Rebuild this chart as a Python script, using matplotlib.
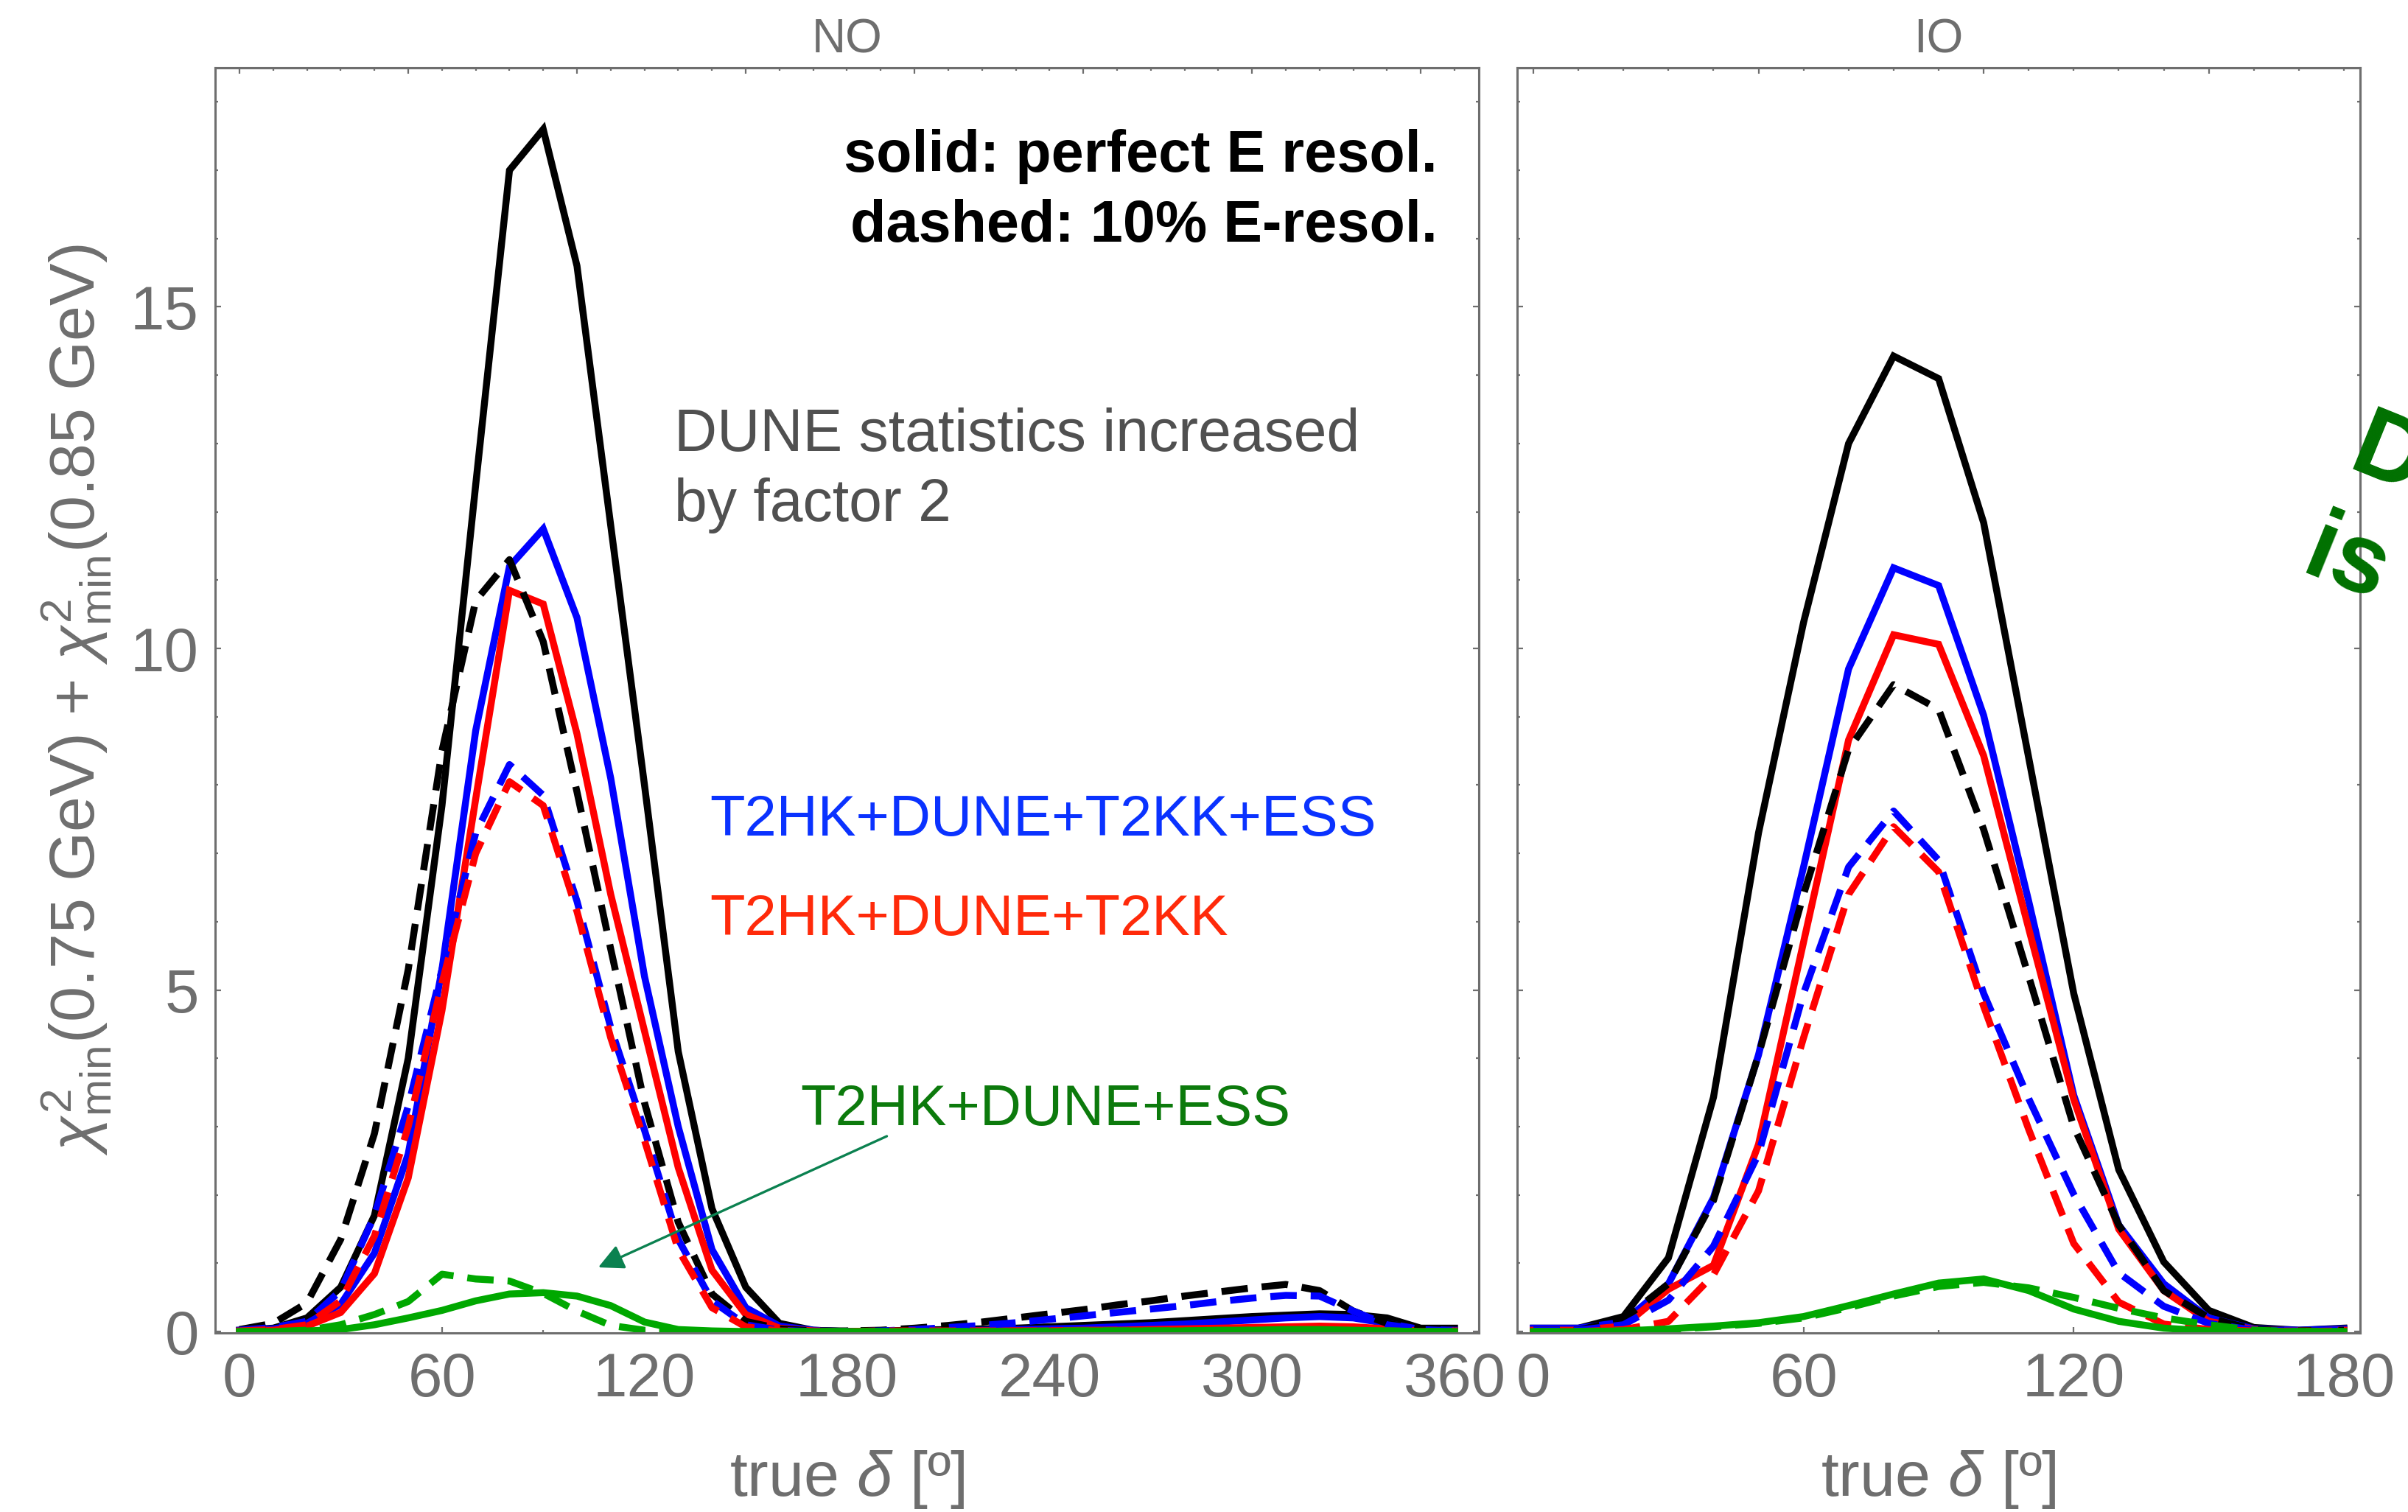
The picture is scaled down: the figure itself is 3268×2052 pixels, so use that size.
""" Chi^2 sensitivity vs true delta for NO and IO, solid = perfect E resolution, dashed = 10% E-resolution. """

import matplotlib
matplotlib.use('Agg')
import matplotlib.pyplot as plt
from matplotlib.ticker import MultipleLocator, FixedLocator

plt.rcParams['font.family'] = ['Liberation Sans', 'DejaVu Sans']
plt.rcParams['mathtext.fontset'] = 'custom'
plt.rcParams['mathtext.rm'] = 'Liberation Sans'
plt.rcParams['mathtext.it'] = 'Liberation Sans:italic'
plt.rcParams['mathtext.bf'] = 'Liberation Sans:bold'

# ---- data: NO (true delta 0..360 in steps of 10) ----
delta_no = list(range(0, 361, 10))

no_black_solid = [0.02, 0.05, 0.2, 0.65, 1.7, 4.0, 7.7, 12.4, 17.0, 17.6, 15.6, 11.8, 8.0, 4.1, 1.8,
                  0.65, 0.12, 0.02, 0.0, 0.01, 0.02, 0.03, 0.04, 0.05, 0.07, 0.09, 0.11, 0.13, 0.16,
                  0.19, 0.22, 0.24, 0.26, 0.25, 0.2, 0.05, 0.05]
no_blue_solid = [0.02, 0.04, 0.12, 0.4, 1.15, 2.6, 5.3, 8.8, 11.2, 11.75, 10.45, 8.1, 5.2, 3.0, 1.2,
                 0.35, 0.08, 0.02, 0.0, 0.0, 0.01, 0.01, 0.02, 0.03, 0.04, 0.05, 0.07, 0.09, 0.11,
                 0.14, 0.17, 0.2, 0.22, 0.2, 0.12, 0.03, 0.02]
no_red_solid = [0.01, 0.02, 0.08, 0.28, 0.85, 2.25, 4.7, 7.8, 10.85, 10.65, 8.75, 6.4, 4.4, 2.4, 0.9,
                0.25, 0.05, 0.01, 0.0, 0.0, 0.0, 0.01, 0.01, 0.01, 0.01, 0.02, 0.02, 0.03, 0.04,
                0.05, 0.06, 0.07, 0.08, 0.07, 0.04, 0.01, 0.01]
no_green_solid = [0.0, 0.0, 0.01, 0.03, 0.1, 0.2, 0.31, 0.45, 0.55, 0.57, 0.52, 0.38, 0.14, 0.03, 0.01,
                  0.0, 0.0, 0.0, 0.0, 0.0, 0.0, 0.0, 0.0, 0.0, 0.0, 0.01, 0.01, 0.01, 0.01,
                  0.02, 0.02, 0.03, 0.03, 0.02, 0.01, 0.0, 0.0]

no_black_dashed = [0.03, 0.12, 0.42, 1.35, 2.9, 5.3, 8.5, 10.7, 11.3, 10.1, 7.9, 5.6, 3.35, 1.6, 0.55,
                   0.15, 0.04, 0.01, 0.01, 0.02, 0.05, 0.09, 0.14, 0.2, 0.26, 0.32, 0.39, 0.45, 0.52,
                   0.58, 0.64, 0.69, 0.6, 0.3, 0.12, 0.04, 0.02]
no_blue_dashed = [0.02, 0.06, 0.15, 0.6, 1.7, 3.3, 5.3, 7.3, 8.3, 7.85, 6.3, 4.45, 2.95, 1.35, 0.45,
                  0.1, 0.02, 0.0, 0.0, 0.01, 0.03, 0.06, 0.09, 0.13, 0.18, 0.23, 0.28, 0.33, 0.38,
                  0.44, 0.49, 0.53, 0.52, 0.3, 0.1, 0.03, 0.01]
no_red_dashed = [0.01, 0.03, 0.1, 0.45, 1.4, 3.0, 5.1, 7.0, 8.05, 7.7, 6.15, 4.3, 2.8, 1.2, 0.35,
                 0.07, 0.01, 0.0, 0.0, 0.01, 0.01, 0.01, 0.01, 0.01, 0.01, 0.01, 0.02, 0.02, 0.02,
                 0.02, 0.02, 0.03, 0.03, 0.02, 0.01, 0.0, 0.0]
no_green_dashed = [0.0, 0.0, 0.02, 0.1, 0.25, 0.44, 0.84, 0.77, 0.74, 0.56, 0.3, 0.09, 0.02, 0.01, 0.0,
                   0.0, 0.0, 0.0, 0.0, 0.0, 0.0, 0.0, 0.0, 0.0, 0.01, 0.01, 0.01, 0.01, 0.01,
                   0.01, 0.02, 0.02, 0.02, 0.01, 0.01, 0.0, 0.0]

# ---- data: IO (true delta 0..180 in steps of 10) ----
delta_io = list(range(0, 181, 10))

io_black_solid = [0.05, 0.05, 0.22, 1.08, 3.43, 7.3, 10.38, 13.0, 14.28, 13.95, 11.84, 8.4, 4.95, 2.37,
                  1.02, 0.31, 0.06, 0.02, 0.05]
io_blue_solid = [0.05, 0.05, 0.14, 0.7, 1.96, 4.05, 6.8, 9.7, 11.18, 10.92, 9.02, 6.3, 3.46, 1.56,
                 0.7, 0.2, 0.04, 0.02, 0.04]
io_red_solid = [0.02, 0.02, 0.08, 0.62, 0.97, 2.74, 5.7, 8.66, 10.2, 10.06, 8.43, 5.9, 3.4, 1.5,
                0.6, 0.15, 0.03, 0.01, 0.02]
io_green_solid = [0.0, 0.0, 0.01, 0.04, 0.08, 0.13, 0.22, 0.38, 0.55, 0.71, 0.77, 0.6, 0.33, 0.15,
                  0.05, 0.01, 0.0, 0.0, 0.0]

io_black_dashed = [0.02, 0.02, 0.18, 0.7, 1.92, 4.05, 6.4, 8.52, 9.47, 9.11, 7.35, 5.2, 3.0, 1.56,
                   0.6, 0.2, 0.03, 0.01, 0.02]
io_blue_dashed = [0.02, 0.02, 0.1, 0.46, 1.25, 2.6, 4.95, 6.8, 7.62, 6.9, 4.95, 3.41, 2.01, 0.86,
                  0.37, 0.12, 0.02, 0.01, 0.02]
io_red_dashed = [0.0, 0.0, 0.03, 0.15, 0.83, 2.06, 4.3, 6.4, 7.39, 6.73, 4.76, 2.96, 1.29, 0.43,
                 0.11, 0.03, 0.01, 0.0, 0.01]
io_green_dashed = [0.0, 0.0, 0.01, 0.03, 0.07, 0.12, 0.2, 0.35, 0.52, 0.66, 0.72, 0.64, 0.5, 0.34,
                   0.2, 0.1, 0.02, 0.0, 0.0]

no_xticks = [0, 60, 120, 180, 240, 300, 360]
io_xticks = [0, 60, 120, 180]
yticks = [0, 5, 10, 15]

GRAY = '#6e6e6e'
W, H = 3268, 2052

fig = plt.figure(figsize=(W / 200, H / 200), dpi=200)
bottom = 1 - 1809 / H
height = (1809 - 92) / H
ax_no = fig.add_axes([292 / W, bottom, (2007 - 292) / W, height])
ax_io = fig.add_axes([2059 / W, bottom, (3203 - 2059) / W, height])


def draw(ax, x, solids, dashes):
    lw = 3.4
    for y, c in solids:
        ax.plot(x, y, color=c, lw=lw, solid_joinstyle='miter')
    for y, c in dashes:
        ax.plot(x, y, color=c, lw=lw, dashes=(3.8, 2.0))


draw(ax_no, delta_no,
     [(no_black_solid, 'black'), (no_blue_solid, '#0000ff'), (no_red_solid, '#ff0000')],
     [(no_black_dashed, 'black'), (no_blue_dashed, '#0000ff'), (no_red_dashed, '#ff0000')])
draw(ax_no, delta_no, [(no_green_solid, '#00a800')], [(no_green_dashed, '#00a800')])

draw(ax_io, delta_io,
     [(io_black_solid, 'black'), (io_blue_solid, '#0000ff'), (io_red_solid, '#ff0000')],
     [(io_black_dashed, 'black'), (io_blue_dashed, '#0000ff'), (io_red_dashed, '#ff0000')])
draw(ax_io, delta_io, [(io_green_solid, '#00a800')], [(io_green_dashed, '#00a800')])


def style(ax, xmax, xticks, ylabels):
    pad = 0.02 * xmax
    ax.set_xlim(-pad, xmax + pad)
    ax.set_ylim(-0.02, 18.5)
    for s in ax.spines.values():
        s.set_color(GRAY)
        s.set_linewidth(1.1)
    ax.set_xticks(xticks)
    ax.xaxis.set_minor_locator(MultipleLocator(30))
    ax.set_yticks(yticks)
    ax.yaxis.set_minor_locator(MultipleLocator(1))
    if not ylabels:
        ax.set_yticklabels([])
    ax.tick_params(which='both', direction='in', color=GRAY, width=0.8,
                   top=False, right=False, labelcolor=GRAY, labelsize=30)
    ax.tick_params(which='major', length=3.0)
    ax.tick_params(which='minor', length=1.5)
    ax.tick_params(axis='x', pad=9)
    ax.tick_params(axis='y', pad=8)

    # top and right frame ticks (no labels)
    top = ax.secondary_xaxis('top')
    top.xaxis.set_major_locator(MultipleLocator(50))
    top.xaxis.set_minor_locator(MultipleLocator(10))
    top.tick_params(which='both', direction='in', color=GRAY, width=0.8, labeltop=False)
    top.tick_params(which='major', length=3.0)
    top.tick_params(which='minor', length=1.5)
    top.spines['top'].set_color(GRAY)
    top.spines['top'].set_linewidth(1.1)

    right = ax.secondary_yaxis('right')
    right.yaxis.set_major_locator(MultipleLocator(5))
    right.yaxis.set_minor_locator(FixedLocator([2, 4, 6, 8, 12, 14, 16, 18]))
    right.tick_params(which='both', direction='in', color=GRAY, width=0.8, labelright=False)
    right.tick_params(which='major', length=3.0)
    right.tick_params(which='minor', length=1.5)
    right.spines['right'].set_color(GRAY)
    right.spines['right'].set_linewidth(1.1)


style(ax_no, 360, no_xticks, True)
style(ax_io, 180, io_xticks, False)

# panel titles and axis labels
fig.text(1150 / W, 1 - 71 / H, 'NO', ha='center', va='baseline', fontsize=23, color=GRAY)
fig.text(2631 / W, 1 - 71 / H, 'IO', ha='center', va='baseline', fontsize=23, color=GRAY)
fig.text(1150 / W, 1 - 2030 / H, r'true $\delta$ [º]', ha='center', va='baseline', fontsize=31, color=GRAY)
fig.text(2631 / W, 1 - 2030 / H, r'true $\delta$ [º]', ha='center', va='baseline', fontsize=31, color=GRAY)
fig.text(104 / W, 1 - 950 / H,
         r'$\chi^2_{\rm min}$(0.75 GeV) + $\chi^2_{\rm min}$(0.85 GeV)',
         rotation=90, ha='center', va='center', fontsize=31, color=GRAY)

# annotations in the NO panel
ax_no.text(355, 16.98, 'solid: perfect E resol.', ha='right', va='baseline',
           fontsize=28.5, fontweight='bold', color='black')
ax_no.text(355, 15.95, 'dashed: 10% E-resol.', ha='right', va='baseline',
           fontsize=28.5, fontweight='bold', color='black')
ax_no.text(128.8, 12.89, 'DUNE statistics increased', ha='left', va='baseline',
           fontsize=29, color='#505050')
ax_no.text(128.8, 11.87, 'by factor 2', ha='left', va='baseline',
           fontsize=29, color='#505050')
ax_no.text(139.3, 7.26, 'T2HK+DUNE+T2KK+ESS', ha='left', va='baseline', fontsize=28, color='#0a32ff')
ax_no.text(139.3, 5.8, 'T2HK+DUNE+T2KK', ha='left', va='baseline', fontsize=28, color='#ff2a0a')
ax_no.text(166.2, 3.02, 'T2HK+DUNE+ESS', ha='left', va='baseline', fontsize=28, color='#0c7a0c')
ax_no.annotate('', xy=(106.3, 0.94), xytext=(191.8, 2.86),
               arrowprops=dict(arrowstyle='-|>', color='#0b8150', lw=1.2,
                               mutation_scale=26, shrinkA=0, shrinkB=0))

# rotated note cut off at the right edge, as in the reference
fig.text(3183 / W, 1 - 636 / H, 'D', rotation=-22, rotation_mode='anchor', ha='left',
         va='baseline', fontsize=48, fontweight='bold', color='#007000')
fig.text(3120 / W, 1 - 776 / H, 'is', rotation=-22, rotation_mode='anchor', ha='left',
         va='baseline', fontsize=48, fontweight='bold', color='#007000')

fig.savefig('out.png', dpi=200)
